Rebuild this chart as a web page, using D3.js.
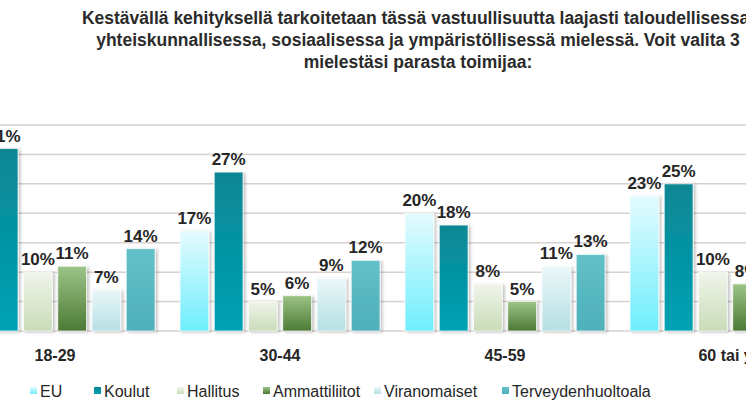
<!DOCTYPE html>
<html>
<head>
<meta charset="utf-8">
<script src="https://cdn.jsdelivr.net/npm/d3@7"></script>
<style>
  body { margin: 0; background: #fff; overflow: hidden; }
  svg { font-family: "Liberation Sans", Arial, sans-serif; }
</style>
</head>
<body>
<div id="chart"></div>
<script>
// data (values off-screen in the crop are estimates)
var categories = ['18-29', '30-44', '45-59', '60 tai yli'];
var series = ['EU', 'Koulut', 'Hallitus', 'Ammattiliitot', 'Viranomaiset', 'Terveydenhuoltoala'];
var values = [
    [15, 31, 10, 11, 7, 14],
    [17, 27, 5, 6, 9, 12],
    [20, 18, 8, 5, 11, 13],
    [23, 25, 10, 8, 9, 12]
];
var yTicks = [0, 5, 10, 15, 20, 25, 30, 35];
var titleLines = [
    'Kestävällä kehityksellä tarkoitetaan tässä vastuullisuutta laajasti taloudellisessa,',
    'yhteiskunnallisessa, sosiaalisessa ja ympäristöllisessä mielessä. Voit valita 3',
    'mielestäsi parasta toimijaa:'
];

var width = 746, height = 419;
var colors = [
    ['#e4fbff', '#6eeefc'],
    ['#0a8694', '#00a2b4'],
    ['#f0f5ea', '#c9dcb8'],
    ['#9cc487', '#4c7a36'],
    ['#eaf7f9', '#b5dfe4'],
    ['#62c0c8', '#4eb0ba']
];

var svg = d3.select('#chart').append('svg')
    .attr('width', width)
    .attr('height', height);

var defs = svg.append('defs');
colors.forEach(function (c, i) {
    var g = defs.append('linearGradient')
        .attr('id', 'grad' + i)
        .attr('x1', 0).attr('y1', 0).attr('x2', 0).attr('y2', 1);
    g.append('stop').attr('offset', '0%').attr('stop-color', c[0]);
    g.append('stop').attr('offset', '100%').attr('stop-color', c[1]);
});
var f = defs.append('filter').attr('id', 'shadow')
    .attr('x', '-20%').attr('y', '-10%').attr('width', '150%').attr('height', '130%');
f.append('feDropShadow').attr('dx', 2).attr('dy', 1).attr('stdDeviation', 1.5)
    .attr('flood-color', '#000').attr('flood-opacity', 0.25);

var x0 = d3.scaleBand().domain(categories).range([-57.5, 842.5]);
var x1 = d3.scaleBand().domain(series).range([-100, 100]).paddingInner(0.16);
var y = d3.scaleLinear().domain([0, 35]).range([331, 125]);

// gridlines
svg.append('g').selectAll('line')
    .data(yTicks)
    .enter().append('line')
    .attr('x1', 0).attr('x2', width)
    .attr('y1', function (d) { return y(d); })
    .attr('y2', function (d) { return y(d); })
    .attr('stroke', '#d9d0d0')
    .attr('stroke-width', 1.5);

// title
svg.append('g').selectAll('text')
    .data(titleLines)
    .enter().append('text')
    .attr('x', 418)
    .attr('y', function (d, i) { return 24 + i * 22; })
    .attr('text-anchor', 'middle')
    .attr('font-size', 17.5)
    .attr('font-weight', 'bold')
    .attr('fill', '#2b2b2b')
    .text(function (d) { return d; });

// bars
var groups = svg.append('g').selectAll('g')
    .data(values)
    .enter().append('g')
    .attr('transform', function (d, i) {
        return 'translate(' + (x0(categories[i]) + x0.bandwidth() / 2) + ',0)';
    });

groups.selectAll('rect')
    .data(function (d) { return d; })
    .enter().append('rect')
    .attr('x', function (d, i) { return x1(series[i]); })
    .attr('width', x1.bandwidth())
    .attr('y', function (d) { return y(d); })
    .attr('height', function (d) { return y(0) - y(d); })
    .attr('fill', function (d, i) { return 'url(#grad' + i + ')'; })
    .attr('stroke', 'rgba(255,255,255,0.7)')
    .attr('filter', 'url(#shadow)');

groups.selectAll('text')
    .data(function (d) { return d; })
    .enter().append('text')
    .attr('x', function (d, i) { return x1(series[i]) + x1.bandwidth() / 2; })
    .attr('y', function (d) { return y(d) - 7; })
    .attr('text-anchor', 'middle')
    .attr('font-size', 17)
    .attr('font-weight', 'bold')
    .attr('fill', '#262626')
    .text(function (d) { return d + '%'; });

// category labels
svg.append('g').selectAll('text')
    .data(categories)
    .enter().append('text')
    .attr('x', function (d) { return x0(d) + x0.bandwidth() / 2; })
    .attr('y', 361)
    .attr('text-anchor', 'middle')
    .attr('font-size', 16)
    .attr('font-weight', 'bold')
    .attr('fill', '#262626')
    .text(function (d) { return d; });

// legend
var legendX = [30, 94, 177, 263, 374, 502];
var legend = svg.append('g').selectAll('g')
    .data(series)
    .enter().append('g')
    .attr('transform', function (d, i) { return 'translate(' + legendX[i] + ',391)'; });
legend.append('rect')
    .attr('x', 0).attr('y', -4).attr('width', 7).attr('height', 7)
    .attr('fill', function (d, i) { return 'url(#grad' + i + ')'; });
legend.append('text')
    .attr('x', 10).attr('y', 5.5)
    .attr('font-size', 16)
    .attr('fill', '#262626')
    .text(function (d) { return d; });
</script>
</body>
</html>
